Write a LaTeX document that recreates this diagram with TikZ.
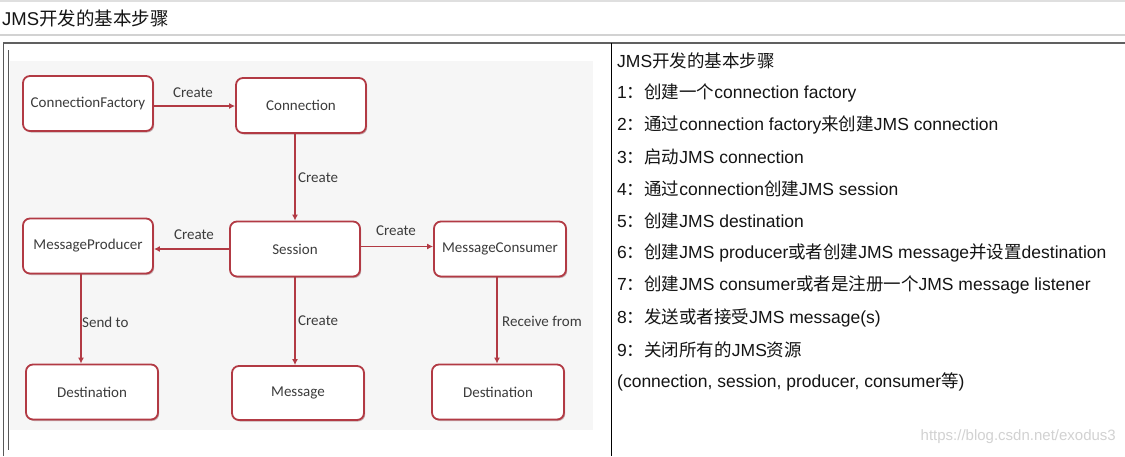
\documentclass[tikz,border=0pt]{standalone}
\usepackage{fontspec}
\setmainfont{Liberation Sans}
\newfontfamily\cjk{Noto Sans CJK SC}
\newfontfamily\diag{Carlito}
\usetikzlibrary{arrows.meta,shadows}
\definecolor{boxred}{RGB}{178,58,68}
\definecolor{imgbg}{RGB}{246,246,246}
\definecolor{txt}{RGB}{20,20,20}
\definecolor{dtxt}{RGB}{60,60,60}
\begin{document}
\begin{tikzpicture}[x=1pt,y=-1pt,
  box/.style={draw=boxred,line width=1.8pt,rounded corners=7pt,fill=white,
    minimum width=130pt,minimum height=55pt,inner sep=0pt,
    font=\diag\fontsize{15}{18}\selectfont,text=dtxt,
    drop shadow={shadow xshift=1.2pt,shadow yshift=-1.5pt,opacity=0.35,fill=boxred!60!black}},
  lbl/.style={font=\diag\fontsize{15}{18}\selectfont,text=dtxt,inner sep=0pt},
  conn/.style={draw=boxred,line width=1.5pt,-{Latex[length=6pt,width=6pt]}},
  step/.style={},
  stepline/.style={anchor=west,inner sep=0pt,font=\fontsize{17.5}{20}\selectfont,text=txt}
]
\useasboundingbox (0,0) rectangle (1125,456);
\fill[white] (0,0) rectangle (1125,456);
% page lines
\draw[gray!25,line width=1.5pt] (0,1) -- (1125,1);
\draw[gray!35,line width=2pt] (0,35) -- (1125,35);
\draw[gray!75!black,line width=1.5pt] (3,43) -- (1125,43);
\draw[gray!70!black,line width=1pt] (3,43) -- (3,456);
\draw[gray!70!black,line width=1pt] (8,50) -- (8,450);
\draw[black,line width=1pt] (611,43) -- (611,456);
\node[anchor=west,inner sep=0pt,font=\fontsize{18.5}{20}\selectfont,text=txt] (title) at (2,18) {JMS{\cjk 开发的基本步骤}};
% diagram background
\fill[imgbg] (10,61) rectangle (593,430);
% nodes
\node[box] (cf) at (88,103.5) {ConnectionFactory};
\node[box] (con) at (301,105.5) {Connection};
\node[box] (ses) at (295,249) {Session};
\node[box] (mp) at (88,246) {MessageProducer};
\node[box,minimum width=132pt] (mc) at (500,249) {MessageConsumer};
\node[box,minimum width=132pt] (dl) at (92,392) {Destination};
\node[box,minimum width=132pt,minimum height=54pt] (msg) at (298,393) {Message};
\node[box,minimum width=132pt] (dr) at (498,392) {Destination};
% connectors
\draw[conn] ([yshift=-2.5pt]cf.east) -- ([yshift=-2.5pt]cf.east -| con.west);
\draw[conn] (ses.north |- con.south) -- (ses.north);
\draw[conn] (ses.west) -- (ses.west -| mp.east);
\draw[conn] ([yshift=2.5pt]ses.east) -- ([yshift=2.5pt]ses.east -| mc.west);
\draw[conn] ([xshift=-7pt]mp.south) -- ([xshift=-7pt]mp.south |- dl.north);
\draw[conn] (ses.south) -- (ses.south |- msg.north);
\draw[conn] ([xshift=-3pt]mc.south) -- ([xshift=-3pt]mc.south |- dr.north);
% labels
\node[lbl] (l1) at (193,93) {Create};
\node[lbl,anchor=west] (l2) at (298,178) {Create};
\node[lbl] (l3) at (194,235) {Create};
\node[lbl] (l4) at (396,231) {Create};
\node[lbl,anchor=west] (l5) at (82,322) {Send to};
\node[lbl,anchor=west] (l6) at (298,321) {Create};
\node[lbl,anchor=west] (l7) at (502,321) {Receive from};
% steps
\node[stepline] (s0) at (617,61) {JMS{\cjk 开发的基本步骤}};
\node[stepline] (s1) at (617,93) {1{\cjk ：创建一个}connection factory};
\node[stepline] (s2) at (617,125) {2{\cjk ：通过}connection factory{\cjk 来创建}JMS connection};
\node[stepline] (s3) at (617,157) {3{\cjk ：启动}JMS connection};
\node[stepline] (s4) at (617,189) {4{\cjk ：通过}connection{\cjk 创建}JMS session};
\node[stepline] (s5) at (617,221) {5{\cjk ：创建}JMS destination};
\node[stepline] (s6) at (617,253) {6{\cjk ：创建}JMS producer{\cjk 或者创建}JMS message{\cjk 并设置}destination};
\node[stepline] (s7) at (617,285) {7{\cjk ：创建}JMS consumer{\cjk 或者是注册一个}JMS message listener};
\node[stepline] (s8) at (617,318) {8{\cjk ：发送或者接受}JMS message(s)};
\node[stepline] (s9) at (617,350) {9{\cjk ：关闭所有的}JMS{\cjk 资源}};
\node[stepline] (s10) at (617,382) {(connection, session, producer, consumer{\cjk 等})};
\node[anchor=east,inner sep=0pt,font=\fontsize{15}{17}\selectfont,text=gray!35] (wm) at (1116,437) {https://blog.csdn.net/exodus3};
\end{tikzpicture}
\end{document}
